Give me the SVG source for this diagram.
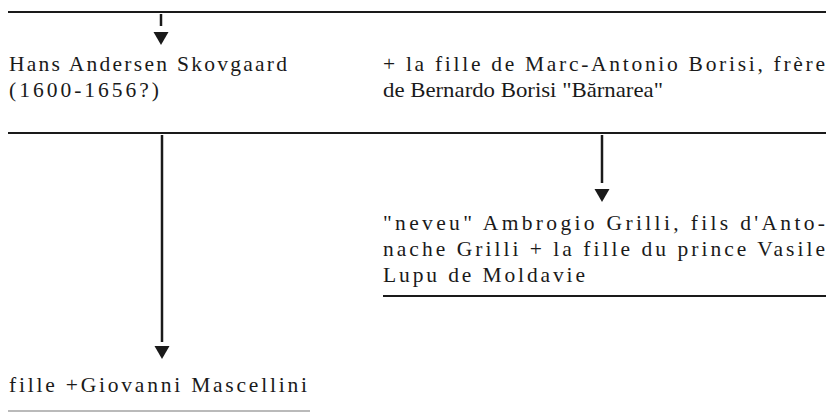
<svg xmlns="http://www.w3.org/2000/svg" xmlns:xlink="http://www.w3.org/1999/xlink" width="829" height="420" viewBox="0 0 829 420">
  <style>
    .t { font-family: "Liberation Serif", "Times New Roman", serif; font-size: 21.5px; fill: #1a1a1a; }
    .rule { stroke: #1a1a1a; stroke-width: 2.2; fill: none; }
    .thin { stroke: #777; stroke-width: 1.2; fill: none; }
    .conn { stroke: #1a1a1a; stroke-width: 2.5; fill: none; }
    .head { fill: #1a1a1a; }
  </style>
  <defs>
    <path id="ah" d="M-7.5,0 H7.5 L0,13 Z"/>
  </defs>
  <rect width="829" height="420" fill="#ffffff"/>

  <g id="rules">
    <line class="rule" x1="8" y1="12" x2="826" y2="12"/>
    <line class="rule" x1="8" y1="133" x2="826" y2="133"/>
    <line class="rule" x1="383" y1="296" x2="826" y2="296"/>
  </g>

  <g id="connectors">
    <line class="conn" x1="161" y1="14" x2="161" y2="26"/>
    <use xlink:href="#ah" class="head" transform="translate(161,32)"/>
    <line class="conn" x1="602" y1="135" x2="602" y2="183"/>
    <use xlink:href="#ah" class="head" transform="translate(602,189)"/>
    <line class="conn" x1="162" y1="135" x2="162" y2="342"/>
    <use xlink:href="#ah" class="head" transform="translate(162,346)"/>
  </g>

  <g id="node-hans">
    <text class="t" x="9" y="71" textLength="278" lengthAdjust="spacing">Hans Andersen Skovgaard</text>
    <text class="t" x="9" y="97" textLength="150" lengthAdjust="spacing">(1600-1656?)</text>
  </g>

  <g id="node-borisi">
    <text class="t" x="383" y="71" textLength="442" lengthAdjust="spacing">+ la fille de Marc-Antonio Borisi, frère</text>
    <text class="t" x="383" y="97" textLength="280" lengthAdjust="spacingAndGlyphs">de Bernardo Borisi "Bărnarea"</text>
  </g>

  <g id="node-grilli">
    <text class="t" x="383" y="230" textLength="442" lengthAdjust="spacing">"neveu" Ambrogio Grilli, fils d'Anto-</text>
    <text class="t" x="383" y="256" textLength="442" lengthAdjust="spacing">nache Grilli + la fille du prince Vasile</text>
    <text class="t" x="383" y="282" textLength="202" lengthAdjust="spacing">Lupu de Moldavie</text>
  </g>

  <g id="node-fille">
    <text class="t" x="9" y="392" textLength="298" lengthAdjust="spacing">fille +Giovanni Mascellini</text>
    <line class="thin" x1="8" y1="411" x2="310" y2="411"/>
  </g>
</svg>
